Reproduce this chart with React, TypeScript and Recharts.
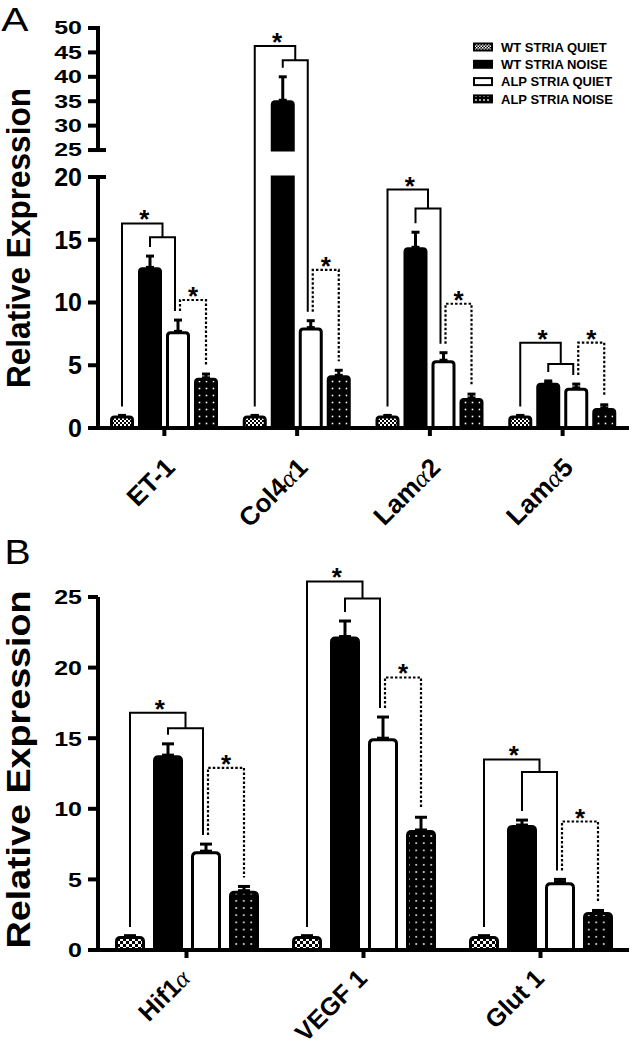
import React from "react";
import { Bar, ComposedChart, ErrorBar, Legend, XAxis, YAxis } from "recharts";

const FONT = '"Liberation Sans", Arial, sans-serif';

const SERIES = ["WT STRIA QUIET", "WT STRIA NOISE", "ALP STRIA QUIET", "ALP STRIA NOISE"];

// ---- panel A (broken y axis 0–20 | 25–50) ----
const A_CATEGORIES = ["ET-1", "Col4α1", "Lamα2", "Lamα5"];
const A_WT_QUIET = [1, 1, 1, 1];
const A_WT_NOISE = [12.8, 35.2, 14.4, 3.6];
const A_ALP_QUIET = [7.7, 8.0, 5.4, 3.2];
const A_ALP_NOISE = [4.0, 4.2, 2.4, 1.6];
// mean + SEM (top of each error bar)
const A_WT_QUIET_TOP = [1, 1, 1, 1];
const A_WT_NOISE_TOP = [13.7, 40.0, 15.6, 3.75];
const A_ALP_QUIET_TOP = [8.6, 8.55, 6.0, 3.5];
const A_ALP_NOISE_TOP = [4.3, 4.6, 2.7, 1.85];
// significance bracket levels
const A_OUTER = [16.3, 46.3, 19.0, 6.8];
const A_INNER = [15.2, 43.4, 17.5, 5.1];
const A_DOTTED = [10.2, 12.6, 9.9, 6.8];
const A_TICKS = [0, 5, 10, 15, 20, 25, 30, 35, 40, 45, 50];

// ---- panel B ----
const B_CATEGORIES = ["Hif1α", "VEGF 1", "Glut 1"];
const B_WT_QUIET = [1, 1, 1];
const B_WT_NOISE = [13.8, 22.2, 8.85];
const B_ALP_QUIET = [7.0, 15.0, 4.8];
const B_ALP_NOISE = [4.2, 8.5, 2.7];
const B_WT_QUIET_TOP = [1, 1, 1];
const B_WT_NOISE_TOP = [14.6, 23.3, 9.2];
const B_ALP_QUIET_TOP = [7.5, 16.5, 5.0];
const B_ALP_NOISE_TOP = [4.5, 9.4, 2.8];
const B_OUTER = [16.8, 26.1, 13.5];
const B_INNER = [15.7, 24.9, 12.6];
const B_DOTTED = [12.9, 19.3, 9.1];
const B_TICKS = [0, 5, 10, 15, 20, 25];

// broken-axis mapping for panel A: display units are the 0–20 segment's units
const A_BREAK_LO = 20;
const A_BREAK_HI = 25;
const A_GAP = 2.15;
const A_K = 0.389;
const dispA = (v: number) => (v <= A_BREAK_LO ? v : A_BREAK_LO + A_GAP + (v - A_BREAK_HI) * A_K);
const dispB = (v: number) => v;
const A_DMAX = dispA(50);

// layout
const W = 633;
const A_H = 545;
const A_MARGIN = { top: 28, right: 4, bottom: 0, left: 0 };
const A_XAXIS_H = 117;
const A_PLOT_H = A_H - A_MARGIN.top - A_XAXIS_H;
const PX_A = A_PLOT_H / A_DMAX;
const B_TOP = 530;
const B_H = 519;
const B_MARGIN = { top: 67, right: 4, bottom: 0, left: 0 };
const B_XAXIS_H = 99;
const Y_AXIS_W = 98;

function buildRows(cats: string[], vals: number[][], tops: number[][], disp: (v: number) => number) {
  return cats.map((cat, i) => {
    const row: any = { cat };
    vals.forEach((series, k) => {
      row[`v${k}`] = disp(series[i]);
      row[`e${k}`] = [0, disp(tops[k][i]) - disp(series[i])];
    });
    return row;
  });
}

const A_VALS = [A_WT_QUIET, A_WT_NOISE, A_ALP_QUIET, A_ALP_NOISE];
const A_TOPS = [A_WT_QUIET_TOP, A_WT_NOISE_TOP, A_ALP_QUIET_TOP, A_ALP_NOISE_TOP];
const B_VALS = [B_WT_QUIET, B_WT_NOISE, B_ALP_QUIET, B_ALP_NOISE];
const B_TOPS = [B_WT_QUIET_TOP, B_WT_NOISE_TOP, B_ALP_QUIET_TOP, B_ALP_NOISE_TOP];
const A_ROWS = buildRows(A_CATEGORIES, A_VALS, A_TOPS, dispA);
const B_ROWS = buildRows(B_CATEGORIES, B_VALS, B_TOPS, dispB);

type PanelCfg = {
  disp: (v: number) => number;
  vals: number[][];
  tops: number[][];
  outer: number[];
  inner: number[];
  dotted: number[];
  gap: number;
  radius: number;
  fills: string[];
  broken: boolean;
  star: number;
};

// bar body (+ the significance brackets, drawn by the last series of each group)
function makeShape(k: number, cfg: PanelCfg) {
  return (props: any) => {
    const { x, y, width, height, index } = props;
    if (!height || height <= 0) return <g />;
    const real = cfg.vals[k][index];
    const base = y + height;
    const P = height / cfg.disp(real);
    const Y = (v: number) => base - cfg.disp(v) * P;
    const hs = 1.5;
    const xl = x + hs;
    const xr = x + width - hs;
    const r = cfg.radius;
    const rounded = (top: number, bottom: number) =>
      `M${xl},${bottom} L${xl},${top + r} Q${xl},${top} ${xl + r},${top} L${xr - r},${top} Q${xr},${top} ${xr},${top + r} L${xr},${bottom} Z`;
    const flat = (top: number, bottom: number) => `M${xl},${bottom} L${xl},${top} L${xr},${top} L${xr},${bottom} Z`;
    const paint = { fill: cfg.fills[k], stroke: "#000", strokeWidth: 3 };

    const body =
      cfg.broken && real > A_BREAK_HI ? (
        <>
          <path d={flat(Y(A_BREAK_LO), base)} {...paint} />
          <path d={rounded(y + hs, Y(A_BREAK_HI))} {...paint} />
        </>
      ) : (
        <path d={rounded(y + hs, base)} {...paint} />
      );

    if (k !== 3) return <g>{body}</g>;

    const step = width + cfg.gap;
    const c = [0, 1, 2, 3].map((j) => x + width / 2 - (3 - j) * step);
    const legGap = 9;
    const leg = [0, 1, 2, 3].map((j) => Y(cfg.tops[j][index]) - legGap);
    const yO = Y(cfg.outer[index]);
    const yI = Y(cfg.inner[index]);
    const yD = Y(cfg.dotted[index]);
    const c2L = c[2] - 3;
    const c2R = c[2] + 2;
    const mid = (c[1] + c2L) / 2;
    const line = { fill: "none", stroke: "#000", strokeWidth: 2 };
    return (
      <g>
        {body}
        <path d={`M${c[0]},${leg[0]} V${yO} H${mid} V${yI}`} {...line} />
        <path d={`M${c[1]},${leg[1]} V${yI} H${c2L} V${leg[2]}`} {...line} />
        <path d={`M${c2R},${leg[2]} V${yD} H${c[3]} V${leg[3]}`} {...line} strokeWidth={2.2} strokeDasharray="2.5 2" />
        <text x={(c[0] + mid) / 2 + 2} y={yO + 5} textAnchor="middle" fontFamily={FONT} fontWeight="bold" fontSize={cfg.star}>
          *
        </text>
        <text x={(c2R + c[3]) / 2} y={yD + 5} textAnchor="middle" fontFamily={FONT} fontWeight="bold" fontSize={cfg.star}>
          *
        </text>
      </g>
    );
  };
}

const A_CFG: PanelCfg = {
  disp: dispA,
  vals: A_VALS,
  tops: A_TOPS,
  outer: A_OUTER,
  inner: A_INNER,
  dotted: A_DOTTED,
  gap: 4,
  radius: 3,
  fills: ["url(#chkA)", "#000", "#fff", "url(#dotA)"],
  broken: true,
  star: 26,
};

const B_CFG: PanelCfg = {
  disp: dispB,
  vals: B_VALS,
  tops: B_TOPS,
  outer: B_OUTER,
  inner: B_INNER,
  dotted: B_DOTTED,
  gap: 8,
  radius: 4,
  fills: ["url(#chkB)", "#000", "#fff", "url(#dotB)"],
  broken: false,
  star: 26,
};

function Patterns({ id, chk, dot, dotH }: { id: string; chk: number; dot: number; dotH: number }) {
  return (
    <defs>
      <pattern id={`chk${id}`} patternUnits="userSpaceOnUse" width={chk * 2} height={chk * 2}>
        <rect width={chk * 2} height={chk * 2} fill="#000" />
        <rect width={chk} height={chk} fill="#fff" />
        <rect x={chk} y={chk} width={chk} height={chk} fill="#fff" />
      </pattern>
      <pattern id={`dot${id}`} patternUnits="userSpaceOnUse" width={dot} height={dotH}>
        <rect width={dot} height={dotH} fill="#000" />
        <rect x={dot / 2 - 0.8} y={dotH / 2 - 0.8} width={1.6} height={1.6} fill="#fff" />
      </pattern>
    </defs>
  );
}

function YTickA(props: any) {
  const { x, y, payload } = props;
  const real = A_TICKS.find((t) => Math.abs(dispA(t) - payload.value) < 1e-6);
  if (real === undefined) return <g />;
  const upper = real >= A_BREAK_HI;
  const cap = real === A_BREAK_LO || real === A_BREAK_HI;
  const fs = 25;
  const s = upper ? 0.72 : 1;
  return (
    <g>
      <line x1={x - 10} x2={cap ? x + 8 : x} y1={y} y2={y} stroke="#000" strokeWidth={4} />
      {real === 0 && (
        <line x1={x} x2={x} y1={y + 2} y2={y - dispA(A_BREAK_LO) * PX_A} stroke="#000" strokeWidth={4} />
      )}
      {real === A_BREAK_HI && (
        <line x1={x} x2={x} y1={y} y2={y - (A_DMAX - dispA(A_BREAK_HI)) * PX_A - 2} stroke="#000" strokeWidth={4} />
      )}
      <g transform={`translate(${x - 16},${y}) scale(1,${s})`}>
        <text x={0} y={0.358 * fs} textAnchor="end" fontFamily={FONT} fontWeight="bold" fontSize={fs} fill="#000">
          {real}
        </text>
      </g>
    </g>
  );
}

function YTickB(props: any) {
  const { x, y, payload } = props;
  const fs = 25;
  return (
    <g>
      <line x1={x - 10} x2={x} y1={y} y2={y} stroke="#000" strokeWidth={4} />
      <g transform={`translate(${x - 16},${y}) scale(1,0.83)`}>
        <text x={0} y={0.358 * fs} textAnchor="end" fontFamily={FONT} fontWeight="bold" fontSize={fs} fill="#000">
          {payload.value}
        </text>
      </g>
    </g>
  );
}

function makeXTick(dx: number, dy: number, fs: number) {
  return (props: any) => {
    const { x, y, payload } = props;
    const parts = String(payload.value).split("α");
    return (
      <g transform={`translate(${x + dx},${y + dy}) rotate(-45)`}>
        <text textAnchor="end" fontFamily={FONT} fontWeight="bold" fontSize={fs} fill="#000">
          {parts[0]}
          {parts.length > 1 && (
            <tspan fontFamily='"Liberation Serif", serif' fontStyle="italic" fontWeight="normal">
              α
            </tspan>
          )}
          {parts.length > 1 ? parts[1] : null}
        </text>
      </g>
    );
  };
}

function makeYLabel(len: number, fs: number, dy: number) {
  return (props: any) => {
    const vb = props.viewBox || {};
    const cx = (vb.x ?? 0) + 30;
    const cy = (vb.y ?? 0) + (vb.height ?? 0) / 2 + dy;
    return (
      <text
        transform={`translate(${cx},${cy}) rotate(-90)`}
        textAnchor="middle"
        fontFamily={FONT}
        fontWeight="bold"
        fontSize={fs}
        textLength={len}
        lengthAdjust="spacingAndGlyphs"
        fill="#000"
      >
        Relative Expression
      </text>
    );
  };
}

const LEGEND_FILLS = ["url(#chkL)", "#000", "#fff", "url(#dotL)"];

function renderLegend(props: any) {
  const payload: any[] = props.payload || [];
  return (
    <svg width={163} height={75} style={{ display: "block" }}>
      <Patterns id="L" chk={1.5} dot={4} dotH={4} />
      {SERIES.map((name, i) => {
        const entry = payload.find((p) => p.value === name);
        const cy = 9 + i * 17.3;
        return (
          <g key={name}>
            <rect x={4} y={cy - 3.5} width={18} height={7} fill={LEGEND_FILLS[i]} stroke="#000" strokeWidth={2} />
            <text x={31} y={cy + 4.6} fontFamily={FONT} fontWeight="bold" fontSize={13} fill="#000">
              {entry ? entry.value : name}
            </text>
          </g>
        );
      })}
    </svg>
  );
}

const axisStroke = { stroke: "#000", strokeWidth: 4 };

export default function App() {
  return (
    <div style={{ position: "absolute", left: 0, top: 0, width: W, height: 1049, background: "#fff" }}>
      <div style={{ position: "absolute", left: 0, top: B_TOP }}>
        <ComposedChart width={W} height={B_H} data={B_ROWS} margin={B_MARGIN} barSize={30} barGap={8}>
          <Patterns id="B" chk={3} dot={7.5} dotH={7.2} />
          <XAxis
            dataKey="cat"
            type="category"
            height={B_XAXIS_H}
            interval={0}
            tickSize={8}
            tickMargin={0}
            axisLine={axisStroke}
            tickLine={axisStroke}
            tick={makeXTick(5, 22, 25)}
          />
          <YAxis
            type="number"
            width={Y_AXIS_W}
            domain={[0, 25]}
            ticks={B_TICKS}
            interval={0}
            axisLine={axisStroke}
            tickLine={false}
            tickSize={0}
            tickMargin={0}
            tick={YTickB}
            label={makeYLabel(358, 33, -4)}
          />
          {SERIES.map((name, k) => (
            <Bar key={name} dataKey={`v${k}`} name={name} fill={B_CFG.fills[k]} isAnimationActive={false} shape={makeShape(k, B_CFG)}>
              <ErrorBar dataKey={`e${k}`} direction="y" width={6} stroke="#000" strokeWidth={3} />
            </Bar>
          ))}
        </ComposedChart>
      </div>
      <div style={{ position: "absolute", left: 0, top: 0 }}>
        <ComposedChart width={W} height={A_H} data={A_ROWS} margin={A_MARGIN} barSize={24} barGap={4}>
          <Patterns id="A" chk={2} dot={7} dotH={7} />
          <XAxis
            dataKey="cat"
            type="category"
            height={A_XAXIS_H}
            interval={0}
            tickSize={8}
            tickMargin={0}
            axisLine={axisStroke}
            tickLine={axisStroke}
            tick={makeXTick(12, 33, 26)}
          />
          <YAxis
            type="number"
            width={Y_AXIS_W}
            domain={[0, A_DMAX]}
            ticks={A_TICKS.map(dispA)}
            interval={0}
            axisLine={false}
            tickLine={false}
            tickSize={0}
            tickMargin={0}
            tick={YTickA}
            label={makeYLabel(300, 33, 10)}
          />
          <Legend
            layout="vertical"
            align="center"
            verticalAlign="middle"
            wrapperStyle={{ left: 470, top: 38, width: 163, height: 75 }}
            content={renderLegend}
          />
          {SERIES.map((name, k) => (
            <Bar key={name} dataKey={`v${k}`} name={name} fill={A_CFG.fills[k]} isAnimationActive={false} shape={makeShape(k, A_CFG)}>
              <ErrorBar dataKey={`e${k}`} direction="y" width={4} stroke="#000" strokeWidth={3} />
            </Bar>
          ))}
        </ComposedChart>
      </div>
      <svg width={W} height={1049} style={{ position: "absolute", left: 0, top: 0, pointerEvents: "none" }}>
        <text x={1} y={31} fontFamily={FONT} fontSize={34} fill="#000" transform="scale(1.2,1)">
          A
        </text>
        <text x={4} y={564} fontFamily={FONT} fontSize={35} fill="#000" transform="scale(1.12,1)">
          B
        </text>
      </svg>
    </div>
  );
}
